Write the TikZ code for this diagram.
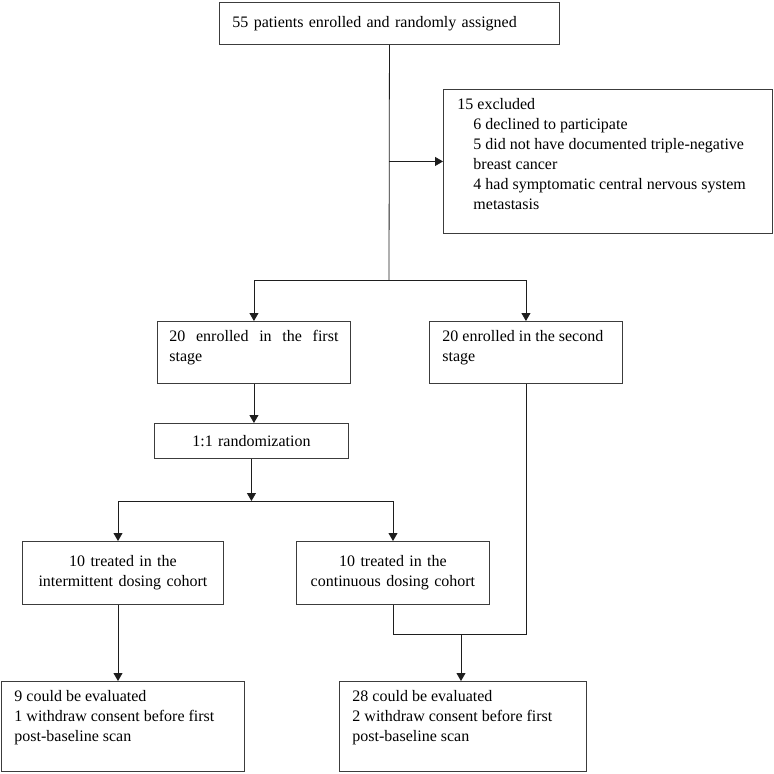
\documentclass[tikz,border=0pt]{standalone}
\usepackage{fontspec}
\setmainfont{Liberation Serif}
\usepackage{tikz}
\usetikzlibrary{arrows.meta}
\definecolor{boxline}{HTML}{3C3C3C}
\definecolor{linecol}{HTML}{1E1E1E}
\definecolor{text}{HTML}{000000}
\tikzset{
  flowbox/.style={draw=boxline, line width=0.9pt, rectangle, anchor=north west,
    inner xsep=13pt, inner ysep=0pt, text=text, font=\fontsize{16}{20}\selectfont},
  topbox/.style={flowbox, inner ysep=9pt},
  link/.style={draw=linecol, line width=0.8pt},
  flowarrow/.style={link, -{Triangle[width=9pt,length=8pt]}}
}
% text set at the top of a box: width, inner height, text
\newcommand{\toptext}[3]{\parbox[c][#2][t]{#1}{#3}}

\begin{document}
\begin{tikzpicture}[x=1pt,y=-1pt]
  \useasboundingbox (0,0) rectangle (774,774);

  % boxes
  \node[flowbox, text width=314pt, minimum height=42pt, align=left] (enrolled) at (219,2)
    {55 patients enrolled and randomly assigned};
  \node[topbox, inner xsep=14pt] (excluded) at (443,89)
    {\toptext{301pt}{126pt}{15 excluded\\
      \hspace*{16pt}6 declined to participate\\
      \hspace*{16pt}5 did not have documented triple-negative\\
      \hspace*{16pt}breast cancer\\
      \hspace*{16pt}4 had symptomatic central nervous system\\
      \hspace*{16pt}metastasis}};
  \node[topbox, inner xsep=12pt] (first) at (157,321)
    {\toptext{169pt}{44pt}{20 enrolled in the first\linebreak stage}};
  \node[topbox] (second) at (429,321)
    {\toptext{167pt}{44pt}{\mbox{20 enrolled in the second}\\stage}};
  \node[flowbox, inner xsep=12pt, text width=170pt, minimum height=35pt, align=center] (random) at (154,423)
    {1:1 randomization};
  \node[flowbox, inner xsep=12pt, text width=177pt, minimum height=63pt, align=center] (intermit) at (22,541)
    {10 treated in the\\intermittent dosing cohort};
  \node[flowbox, inner xsep=12pt, text width=169pt, minimum height=63pt, align=center] (contin) at (296,541)
    {10 treated in the\\continuous dosing cohort};
  \node[topbox] (evalA) at (1,681)
    {\toptext{217pt}{72pt}{9 could be evaluated\\
      1 withdraw consent before first\\
      post-baseline scan}};
  \node[topbox] (evalB) at (339,681)
    {\toptext{221pt}{72pt}{28 could be evaluated\\
      2 withdraw consent before first\\
      post-baseline scan}};

  % junctions
  \coordinate (split) at (389,280);
  \coordinate (forkL) at (118,501);
  \coordinate (forkR) at (393,501);
  \coordinate (merge) at (461,634);

  % connectors
  \draw[link] (enrolled.south) -- (split);
  \draw[flowarrow] (enrolled.south |- excluded.west) -- (excluded.west);
  \draw[flowarrow] (split) -| (first.north);
  \draw[flowarrow] (split) -| (second.north);
  \draw[flowarrow] (first.south) -- (first.south |- random.north);
  \draw[flowarrow] (random.south) -- (random.south |- forkL);
  \draw[link] (forkL) -- (forkR);
  \draw[flowarrow] (forkL) -- (forkL |- intermit.north);
  \draw[flowarrow] (forkR) -- (forkR |- contin.north);
  \draw[flowarrow] (forkL |- intermit.south) -- (forkL |- evalA.north);
  \draw[link] (contin.south) -- (contin.south |- merge) -- (second.south |- merge) -- (second.south);
  \draw[flowarrow] (merge) -- (merge |- evalB.north);
\end{tikzpicture}
\end{document}
